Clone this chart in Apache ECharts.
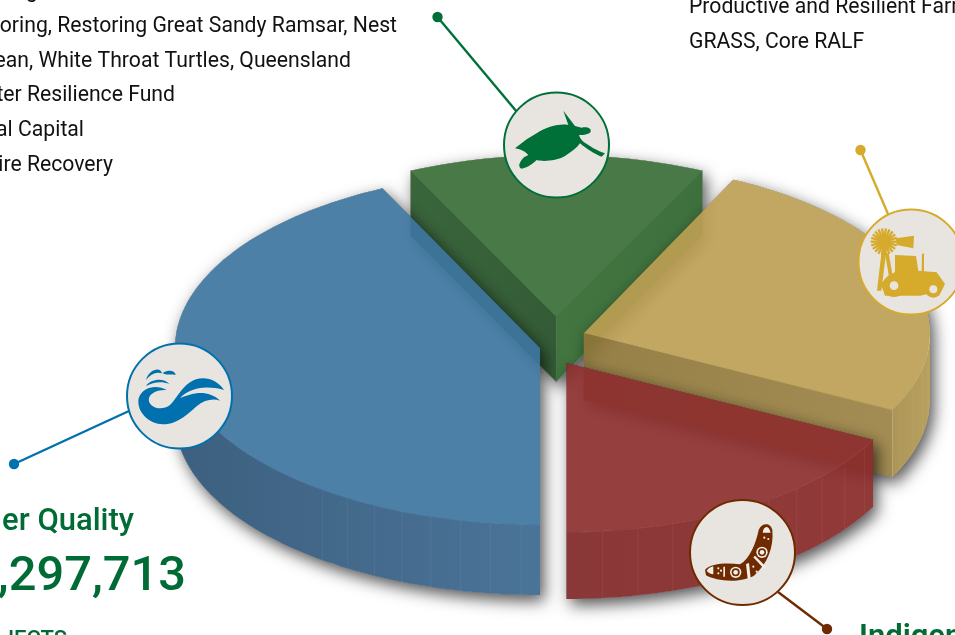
<!DOCTYPE html>
<html><head><meta charset="utf-8">
<style>html,body{margin:0;padding:0;background:#fff;overflow:hidden}#c{width:955px;height:635px}</style>
<script src="https://cdn.jsdelivr.net/npm/echarts@6/dist/echarts.min.js"></script>
</head><body><div id="c"></div>
<script>
// ---- data (share of the funding, %) ----
const categories = ['Water Quality', 'Threatened Species', 'Productive and Resilient Farms', 'Indigenous'];
const shares = [42.9, 14.2, 25.4, 17.5];
const listLeft = ['oring, Restoring Great Sandy Ramsar, Nest', 'ean, White Throat Turtles, Queensland', 'ter Resilience Fund', 'al Capital', 'ire Recovery'];
const listRight = ['Productive and Resilient Farms', 'GRASS, Core RALF'];
const amountText = ',297,713';
const headText = 'er Quality';
const subText = 'JECTS';
const redHead = 'Indigenous';

// ---- layout and style ----
const startAngle = 180;
const looks = [
 {cx:540,cy:348,rx:365,ry:177,h:70,z:30,top:[77,128,168],wallA:[61,96,127],wallB:[75,116,153],cuts:[],facet:[3,40,4.8],rim:0.03},
 {cx:556.5,cy:317,rx:338,ry:162,h:65,z:10,top:[72,122,71],cutStart:[[52,92,54],[58,102,60]],cutEnd:[[66,117,64],[62,112,62]],cuts:['start','end']},
 {cx:584,cy:333,rx:346,ry:170,h:67,z:20,top:[193,167,98],wallA:[172,150,88],wallB:[184,160,95],cutEnd:[[150,128,72],[164,141,84]],cuts:['end'],facet:[3,24,6],rim:0.06},
 {cx:566.5,cy:363,rx:344,ry:169,h:67,z:40,top:[150,64,64],wallA:[138,55,55],wallB:[146,58,58],cuts:[],facet:[3,64,6],rim:0.08}
];
const badges = [
 {c:[179.5,396],from:[14,464],to:[129,411],col:'#0071ae'},
 {c:[556.5,145],from:[437.5,17],to:[517,112],col:'#007038'},
 {c:[911,262],from:[860.5,150],to:[888,214],col:'#d6aa2b'},
 {c:[742.5,552.5],from:[827,629],to:[778,592],col:'#6f2a00'}
];
const paper = '#e8e4df', light = '#f2eee8';
const FA = 0.92; // face alpha

function rgba(c,a){return 'rgba('+c.map(v=>Math.max(0,Math.min(255,Math.round(v)))).join(',')+','+a+')';}
function src(d){return d.map(v=>(v-(1-FA)*255)/FA);}
function hull(pts){
  const p=pts.slice().sort((a,b)=>a[0]-b[0]||a[1]-b[1]);
  const cr=(o,a,b)=>(a[0]-o[0])*(b[1]-o[1])-(a[1]-o[1])*(b[0]-o[0]);
  const lo=[],up=[];
  for(const q of p){while(lo.length>1&&cr(lo[lo.length-2],lo[lo.length-1],q)<=0)lo.pop();lo.push(q);}
  for(const q of p.slice().reverse()){while(up.length>1&&cr(up[up.length-2],up[up.length-1],q)<=0)up.pop();up.push(q);}
  return lo.slice(0,-1).concat(up.slice(0,-1));
}
const total = shares.reduce((a,b)=>a+b,0);
function sliceRange(i){
  let s=startAngle; for(let k=0;k<i;k++) s+=shares[k]/total*360;
  return [s, s+shares[i]/total*360];
}
function pt(L,a,dy){const r=a*Math.PI/180;return [L.cx+L.rx*Math.sin(r),L.cy-L.ry*Math.cos(r)+(dy||0)];}
function arc(L,a0,a1,dy){const out=[],n=Math.max(2,Math.ceil(Math.abs(a1-a0)/1.5));for(let i=0;i<=n;i++)out.push(pt(L,a0+(a1-a0)*i/n,dy));return out;}
function grad(A,B,al,x0,y0,x1,y1){return new echarts.graphic.LinearGradient(x0,y0,x1,y1,[{offset:0,color:rgba(A,al)},{offset:1,color:rgba(B,al)}]);}

function renderSlice(params){
  const i=params.dataIndex,L=looks[i],[a0,a1]=sliceRange(i);
  const kids=[];
  const seam=0.6; // walls tuck slightly under the top face
  const topPts=[[L.cx,L.cy]].concat(arc(L,a0,a1));
  const H=hull(topPts.concat(topPts.map(p=>[p[0],p[1]+L.h])));
  const outside='M-50 -50L1005 -50L1005 685L-50 685ZM'+H.slice().reverse().map(p=>p[0].toFixed(2)+' '+p[1].toFixed(2)).join('L')+'Z';
  kids.push({type:'polygon',z2:L.z,shape:{points:H},clipPath:{type:'path',shape:{pathData:outside}},
    style:{fill:'#000',shadowBlur:16,shadowColor:'rgba(0,0,0,0.68)',shadowOffsetX:4,shadowOffsetY:6}});
  const wall=(pts,A,B,x0,y0,x1,y1)=>kids.push({type:'polygon',z2:L.z+1,shape:{points:pts},style:{fill:grad(src(A),src(B),FA,x0,y0,x1,y1)}});
  if(L.cuts.includes('start')){const e=pt(L,a0);wall([[e[0],e[1]-seam],[L.cx,L.cy-seam],[L.cx,L.cy+L.h],[e[0],e[1]+L.h]],L.cutStart[1],L.cutStart[0],0,0,1,0);}
  if(L.cuts.includes('end')){const e=pt(L,a1);wall([[L.cx-0.3,L.cy-seam],[e[0],e[1]-seam],[e[0],e[1]+L.h],[L.cx-0.3,L.cy+L.h]],L.cutEnd[0],L.cutEnd[1],0,0,1,0);}
  // outer rim: only the part that faces the viewer
  let ra=null;
  for(const sh of [0,-360,360]){const l=Math.max(a0+sh,90),h=Math.min(a1+sh,270);if(h>l)ra=[l,h];}
  if(ra&&L.wallA){
    const up=arc(L,ra[0],ra[1],-seam),dn=arc(L,ra[1],ra[0],L.h);
    const ltr=up[0][0]>up[up.length-1][0];
    wall(up.concat(dn),L.wallB,L.wallA,ltr?1:0,0,ltr?0:1,0);
    if(L.facet){
      const [f0,f1,st]=L.facet;
      const anchor=(i===2)?ra[1]:ra[0], dir=(i===2)?-1:1;
      for(let d=f0;d<=f1;d+=st){
        const a=anchor+dir*d; if(a<=ra[0]||a>=ra[1])continue;
        const p=pt(L,a);
        kids.push({type:'line',z2:L.z+2,shape:{x1:p[0],y1:p[1],x2:p[0],y2:p[1]+L.h},style:{stroke:'rgba(255,255,255,0.05)',lineWidth:1}});
      }
    }
    kids.push({type:'polyline',z2:L.z+3,shape:{points:arc(L,ra[0],ra[1])},style:{fill:null,stroke:'rgba(255,255,255,'+L.rim+')',lineWidth:1}});
  }
  kids.push({type:'polygon',z2:L.z+2,shape:{points:topPts},style:{fill:rgba(src(L.top),FA)}});
  return {type:'group',children:kids};
}

// ---- icon paths, traced in a 3x box whose origin is given by each icon ----
const wave=[
 'M500 180C470 163 428 170 416 205C408 247 450 284 490 283C537 282 567 247 592 227C612 210 640 204 660 212C642 193 612 186 590 190C572 193 556 198 540 204C565 178 610 163 672 180C652 148 605 132 568 158C543 175 530 205 510 225C490 240 458 238 447 215C442 192 470 178 500 180Z',
 'M438 150C446 118 482 108 486 130C466 124 452 134 438 150Z',
 'M488 130C498 118 526 120 527 135C510 131 500 137 488 130Z',
 'M438 168C452 146 492 142 508 162C486 153 460 156 438 168Z'];
const turtle=[
 'M345 205L380 178L410 160C440 140 480 130 505 135L490 92L525 138L545 143C565 138 578 148 570 158C560 165 545 165 537 165C540 175 545 180 552 187C568 197 590 213 615 220L605 230C582 222 558 205 540 190C530 205 515 215 495 228C470 242 430 246 410 240C400 250 385 262 365 266C352 262 358 245 372 232L385 225C375 215 365 208 345 205Z'];
const farmSolid=[
 'M768 715L822 707L820 745L770 735Z',
 'M765 765L828 768L835 812L890 817L915 852L905 872L840 887L735 887L722 850L765 815Z',
 'M845 815L846 762L852 760L852 815Z',
 'M726 745L740 745L724 872L711 872Z',
 'M735 760L746 760L764 860L752 860Z'];
const boom=['M495 690C510 670 560 668 600 673C628 658 648 610 656 570C664 548 692 546 697 570C702 622 682 672 642 707C600 730 530 724 498 706Z'];
const boomLight=[
 'M668 578C670 560 685 552 692 578Z',
 'M618 672L627 669L632 715L623 716Z',
 'M640 652L645 647L678 680L672 686Z',
 'M500 692C506 683 514 680 520 679L520 703C512 702 505 699 500 692Z',
 'M550 680L555 680L555 710L550 710Z'];
function iconPaths(list,col,ox,oy,extra){
  const kids=list.map(d=>({type:'path',z2:101,shape:{pathData:d},style:{fill:col}}));
  return {type:'group',x:ox,y:oy,scaleX:1/3,scaleY:1/3,children:kids.concat(extra||[]).map(k=>Object.assign({z2:101},k))};
}
function renderOverlays(){
  const kids=[];
  badges.forEach(b=>{
    kids.push({type:'line',z2:100,shape:{x1:b.from[0],y1:b.from[1],x2:b.to[0],y2:b.to[1]},style:{stroke:b.col,lineWidth:2.4}});
    kids.push({type:'circle',z2:100,shape:{cx:b.from[0],cy:b.from[1],r:5.2},style:{fill:b.col}});
    kids.push({type:'circle',z2:100,shape:{cx:b.c[0],cy:b.c[1],r:52.5},style:{fill:paper,stroke:b.col,lineWidth:2}});
  });
  kids.push(iconPaths(wave,badges[0].col,0,330));
  kids.push(iconPaths(turtle,badges[1].col,400,80));
  const y=badges[2].col, ex=[];
  for(let k=0;k<22;k++){const a=k/22*Math.PI*2;ex.push({type:'line',shape:{x1:732+10*Math.cos(a),y1:725+10*Math.sin(a),x2:732+40*Math.cos(a),y2:725+40*Math.sin(a)},style:{stroke:y,lineWidth:7}});}
  ex.push({type:'circle',shape:{cx:732,cy:725,r:11},style:{fill:y}});
  ex.push({type:'circle',shape:{cx:762,cy:857,r:34},style:{fill:y}});
  ex.push({type:'circle',shape:{cx:762,cy:857,r:13},style:{fill:paper},z2:102});
  ex.push({type:'circle',shape:{cx:880,cy:868,r:25},style:{fill:y}});
  ex.push({type:'circle',shape:{cx:880,cy:868,r:12},style:{fill:paper},z2:102});
  kids.push(iconPaths(farmSolid,y,640,0,ex));
  const br=badges[3].col, bx=boomLight.map(d=>({type:'path',z2:102,shape:{pathData:d},style:{fill:light}}));
  [[587,697],[666,637]].forEach(c=>{
    bx.push({type:'circle',z2:102,shape:{cx:c[0],cy:c[1],r:17},style:{fill:light}});
    bx.push({type:'circle',z2:103,shape:{cx:c[0],cy:c[1],r:12},style:{fill:br}});
    bx.push({type:'circle',z2:104,shape:{cx:c[0],cy:c[1],r:7},style:{fill:light}});
  });
  [[535,685],[535,700],[543,692],[640,680],[650,695],[673,593],[685,597]].forEach(c=>bx.push({type:'circle',z2:102,shape:{cx:c[0],cy:c[1],r:3.2},style:{fill:light}}));
  kids.push(iconPaths(boom,br,540,340,bx));
  return {type:'group',children:kids};
}

const body='"Roboto",sans-serif', txt=[];
const t=(text,x,y,size,weight,fill,align)=>txt.push({type:'text',z:50,x,y:y-size*0.36,style:{text,fill,align:align||'left',verticalAlign:'middle',font:weight+' '+size+'px '+body}});
t('g',38,-1,21.2,400,'#111','right');
[397,351,175,84,113].forEach((x,i)=>t(listLeft[i],x,34.5+i*34.6,21.2,400,'#111','right'));
t(listRight[0],689,15,21.2,400,'#111');
t(listRight[1],689,50,21.2,400,'#111');
t(headText,134,533,31,500,'#006b35','right');
t(amountText,186,595,48.8,500,'#006b35','right');
t(subText,67,648,22,500,'#006b35','right');
t(redHead,859,649,31,600,'#006b35');

const chart=echarts.init(document.getElementById('c'),null,{renderer:'canvas'});
chart.setOption({
  animation:false,
  graphic:{elements:txt},
  series:[
   {type:'custom',coordinateSystem:'none',renderItem:renderSlice,data:categories.map((n,i)=>({name:n,value:shares[i]})),z:2,silent:true,clip:false},
   {type:'custom',coordinateSystem:'none',renderItem:renderOverlays,data:[0],z:3,silent:true,clip:false}
  ]
});
</script></body></html>
